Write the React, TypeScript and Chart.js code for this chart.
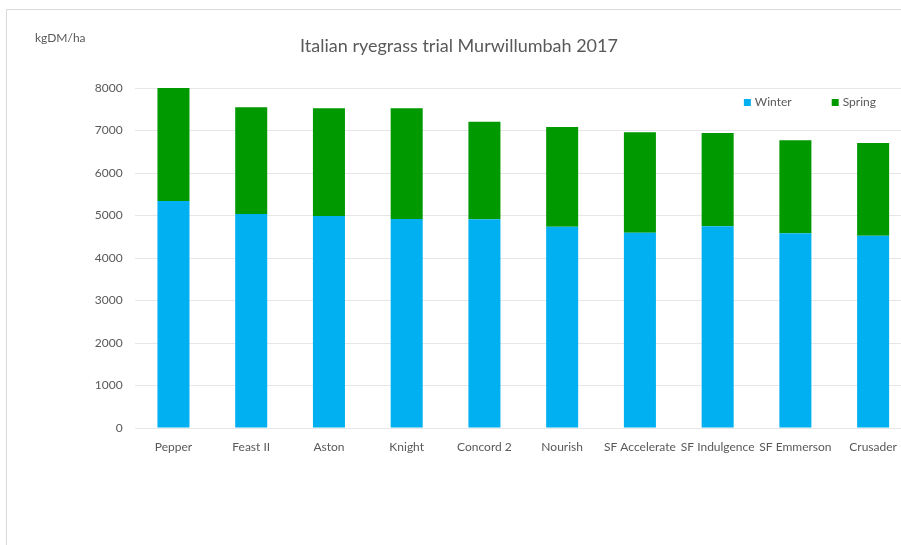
import React, { useEffect, useRef } from "react";
import { Chart, registerables } from "chart.js";

Chart.register(...registerables);

const categories = [
  "Pepper",
  "Feast II",
  "Aston",
  "Knight",
  "Concord 2",
  "Nourish",
  "SF Accelerate",
  "SF Indulgence",
  "SF Emmerson",
  "Crusader",
];
const winter = [5341, 5035, 4988, 4918, 4910, 4736, 4596, 4745, 4580, 4525];
const spring = [2659, 2511, 2534, 2604, 2297, 2346, 2361, 2196, 2189, 2181];
const seriesNames = ["Winter", "Spring"];
const seriesColors = ["#00B0F0", "#009900"];
const yMin = 0;
const yMax = 8000;
const yStep = 1000;
const chartTitle = "Italian ryegrass trial Murwillumbah 2017";
const yUnit = "kgDM/ha";

const FONT = "Lato, 'Open Sans', sans-serif";
const TEXT = "#595959";
const W = 912;
const H = 545;

const decorPlugin = {
  id: "decor",
  beforeDraw(chart: any) {
    const ctx = chart.ctx;
    ctx.save();
    ctx.fillStyle = "#ffffff";
    ctx.fillRect(0, 0, chart.width, chart.height);
    ctx.strokeStyle = "#d9d9d9";
    ctx.lineWidth = 1;
    ctx.beginPath();
    ctx.moveTo(6.5, chart.height);
    ctx.lineTo(6.5, 9.5);
    ctx.lineTo(chart.width, 9.5);
    ctx.stroke();
    ctx.restore();
  },
  afterDraw(chart: any) {
    const ctx = chart.ctx;
    const area = chart.chartArea;
    ctx.save();
    ctx.font = `12px ${FONT}`;
    ctx.fillStyle = TEXT;
    ctx.textBaseline = "middle";
    ctx.textAlign = "left";
    ctx.fillText(yUnit, 35, 38);

    const box = 7;
    const gap = 4;
    const itemGap = 40;
    const items = chart.data.datasets.map((ds: any) => ({
      label: ds.label,
      color: ds.backgroundColor,
      w: box + gap + ctx.measureText(ds.label).width,
    }));
    const total =
      items.reduce((s: number, it: any) => s + it.w, 0) +
      itemGap * (items.length - 1);
    let x = area.right - 36 - total;
    const y = area.top + 14.5;
    items.forEach((it: any) => {
      ctx.fillStyle = it.color;
      ctx.fillRect(x, y - 3.5, box, box);
      ctx.fillStyle = TEXT;
      ctx.fillText(it.label, x + box + gap, y);
      x += it.w + itemGap;
    });
    ctx.restore();
  },
};

export default function App() {
  const canvasRef = useRef<HTMLCanvasElement | null>(null);

  useEffect(() => {
    if (!canvasRef.current) return;
    const chart = new Chart(canvasRef.current, {
      type: "bar",
      data: {
        labels: categories,
        datasets: [
          {
            label: seriesNames[0],
            data: winter,
            backgroundColor: seriesColors[0],
            barPercentage: 0.412,
            categoryPercentage: 1,
          },
          {
            label: seriesNames[1],
            data: spring,
            backgroundColor: seriesColors[1],
            barPercentage: 0.412,
            categoryPercentage: 1,
          },
        ],
      },
      options: {
        responsive: false,
        animation: false,
        layout: { padding: { left: 6, right: 0, top: 0, bottom: 0 } },
        plugins: {
          legend: { display: false },
          tooltip: { enabled: false },
          title: {
            display: true,
            text: chartTitle,
            color: TEXT,
            font: { family: FONT, size: 18, weight: "normal" },
            padding: { top: 35, bottom: 31.4 },
          },
        },
        scales: {
          x: {
            stacked: true,
            grid: { display: false },
            border: { display: false },
            ticks: {
              color: TEXT,
              font: { family: FONT, size: 12 },
              padding: 4,
              maxRotation: 0,
              autoSkip: false,
            },
            afterFit: (s: any) => {
              s.height = 117;
            },
          },
          y: {
            stacked: true,
            min: yMin,
            max: yMax,
            ticks: {
              stepSize: yStep,
              color: TEXT,
              font: { family: FONT, size: 12 },
              padding: 12,
              callback: (v: any) => String(v),
            },
            grid: { color: "#e6e6e6", drawTicks: false },
            border: { display: false },
            afterFit: (s: any) => {
              s.width = 128.6;
            },
          },
        },
      },
      plugins: [decorPlugin],
    });
    return () => chart.destroy();
  }, []);

  return (
    <div
      style={{
        position: "fixed",
        left: 0,
        top: 0,
        width: 901,
        height: 545,
        overflow: "hidden",
        background: "#fff",
      }}
    >
      <canvas
        ref={canvasRef}
        width={W}
        height={H}
        style={{ display: "block", width: W, height: H }}
      />
    </div>
  );
}
